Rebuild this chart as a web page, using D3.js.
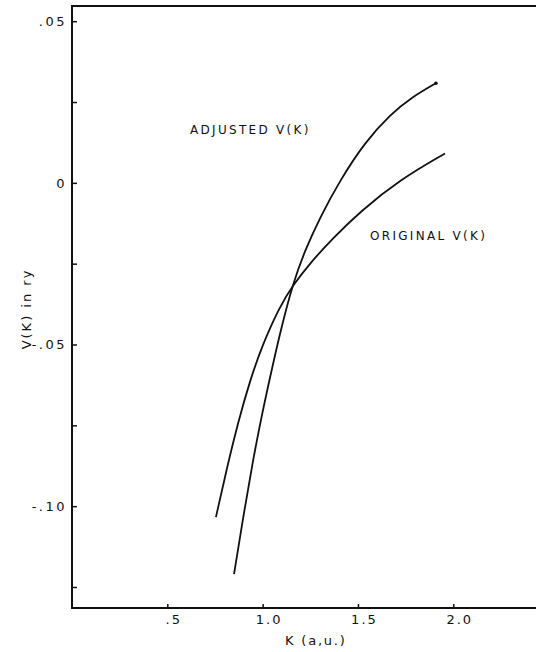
<!DOCTYPE html>
<html>
<head>
<meta charset="utf-8">
<script src="https://cdn.jsdelivr.net/npm/d3@7"></script>
<style>
  body { margin: 0; background: #fff; }
  svg { display: block; }
  text { font-family: "DejaVu Sans", sans-serif; fill: #111; }
</style>
</head>
<body>
<div id="chart"></div>
<script>
// values
let adjustedK = [0.850, 0.902, 0.949, 0.996, 1.049, 1.101, 1.159, 1.222, 1.301, 1.405, 1.536, 1.668, 1.783, 1.909];
let adjustedV = [-0.1210, -0.1020, -0.0859, -0.0717, -0.0574, -0.0441, -0.0311, -0.0209, -0.0107, 0.0007, 0.0125, 0.0211, 0.0265, 0.0308];
let originalK = [0.755, 0.813, 0.871, 0.934, 0.997, 1.091, 1.160, 1.249, 1.369, 1.511, 1.721, 1.957];
let originalV = [-0.1034, -0.0881, -0.0741, -0.0611, -0.0504, -0.0381, -0.0316, -0.0248, -0.0171, -0.0089, 0.0010, 0.0091];

let xTicks = [0.5, 1.0, 1.5, 2.0];
let xTickLabels = [".5", "1.0", "1.5", "2.0"];
let yTicks = [0.05, 0.025, 0, -0.025, -0.05, -0.075, -0.10, -0.125];
let yTickLabels = [".05", "", "0", "", "-.05", "", "-.10", ""];

let width = 536, height = 652;

let svg = d3.select("#chart").append("svg")
    .attr("width", width)
    .attr("height", height);

let x = d3.scaleLinear()
    .domain([0, 2.434])
    .range([72, 536]);

let y = d3.scaleLinear()
    .domain([0.0547, -0.1315])
    .range([6, 608]);

// top line of the frame
svg.append("line")
    .attr("x1", 71).attr("x2", width)
    .attr("y1", y(0.0547)).attr("y2", y(0.0547))
    .style("stroke", "#111").style("stroke-width", 2);

let xAxis = d3.axisBottom(x)
    .tickValues(xTicks)
    .tickFormat((d, i) => xTickLabels[i])
    .tickSizeInner(-4)
    .tickSizeOuter(0)
    .tickPadding(7);

let yAxis = d3.axisLeft(y)
    .tickValues(yTicks)
    .tickFormat((d, i) => yTickLabels[i])
    .tickSizeInner(-5)
    .tickSizeOuter(0)
    .tickPadding(5);

let gx = svg.append("g")
    .attr("transform", "translate(0," + y(-0.1315) + ")")
    .call(xAxis);
gx.select(".domain").remove();
gx.selectAll("line").style("stroke", "#111").style("stroke-width", 1.5);
gx.selectAll("text")
    .attr("dx", 6)
    .style("font-size", "13px")
    .style("letter-spacing", "2px");

gx.append("line")
    .attr("x1", 71).attr("x2", width)
    .style("stroke", "#111").style("stroke-width", 2);

let gy = svg.append("g")
    .attr("transform", "translate(72,0)")
    .call(yAxis);
gy.select(".domain").remove();
gy.selectAll("line").style("stroke", "#111").style("stroke-width", 1.5);
gy.selectAll("text")
    .style("font-size", "13px")
    .style("letter-spacing", "2.5px");

gy.append("line")
    .attr("y1", y(0.0547) - 1).attr("y2", y(-0.1315) + 1)
    .style("stroke", "#111").style("stroke-width", 2);

// curves
let line = d3.line()
    .x(d => x(d[0]))
    .y(d => y(d[1]))
    .curve(d3.curveBasis);

svg.append("path")
    .datum(adjustedK.map((k, i) => [k, adjustedV[i]]))
    .attr("d", line)
    .style("fill", "none")
    .style("stroke", "#111")
    .style("stroke-width", 1.8);

svg.append("path")
    .datum(originalK.map((k, i) => [k, originalV[i]]))
    .attr("d", line)
    .style("fill", "none")
    .style("stroke", "#111")
    .style("stroke-width", 1.8);

svg.append("circle")
    .attr("cx", x(adjustedK[adjustedK.length - 1]))
    .attr("cy", y(adjustedV[adjustedV.length - 1]))
    .attr("r", 1.8)
    .style("fill", "#111");

// curve labels
svg.append("text")
    .attr("x", 190)
    .attr("y", 134)
    .style("font-size", "12px")
    .style("letter-spacing", "2.3px")
    .text("ADJUSTED V(K)");

svg.append("text")
    .attr("x", 370)
    .attr("y", 240)
    .style("font-size", "12px")
    .style("letter-spacing", "2.3px")
    .text("ORIGINAL V(K)");

// axis titles
svg.append("text")
    .attr("x", 285)
    .attr("y", 645)
    .style("font-size", "13px")
    .style("letter-spacing", "1.8px")
    .text("K (a,u.)");

svg.append("text")
    .attr("transform", "translate(31,309) rotate(-90)")
    .style("font-size", "13px")
    .style("letter-spacing", "2px")
    .style("text-anchor", "middle")
    .text("V(K) in ry");
</script>
</body>
</html>
